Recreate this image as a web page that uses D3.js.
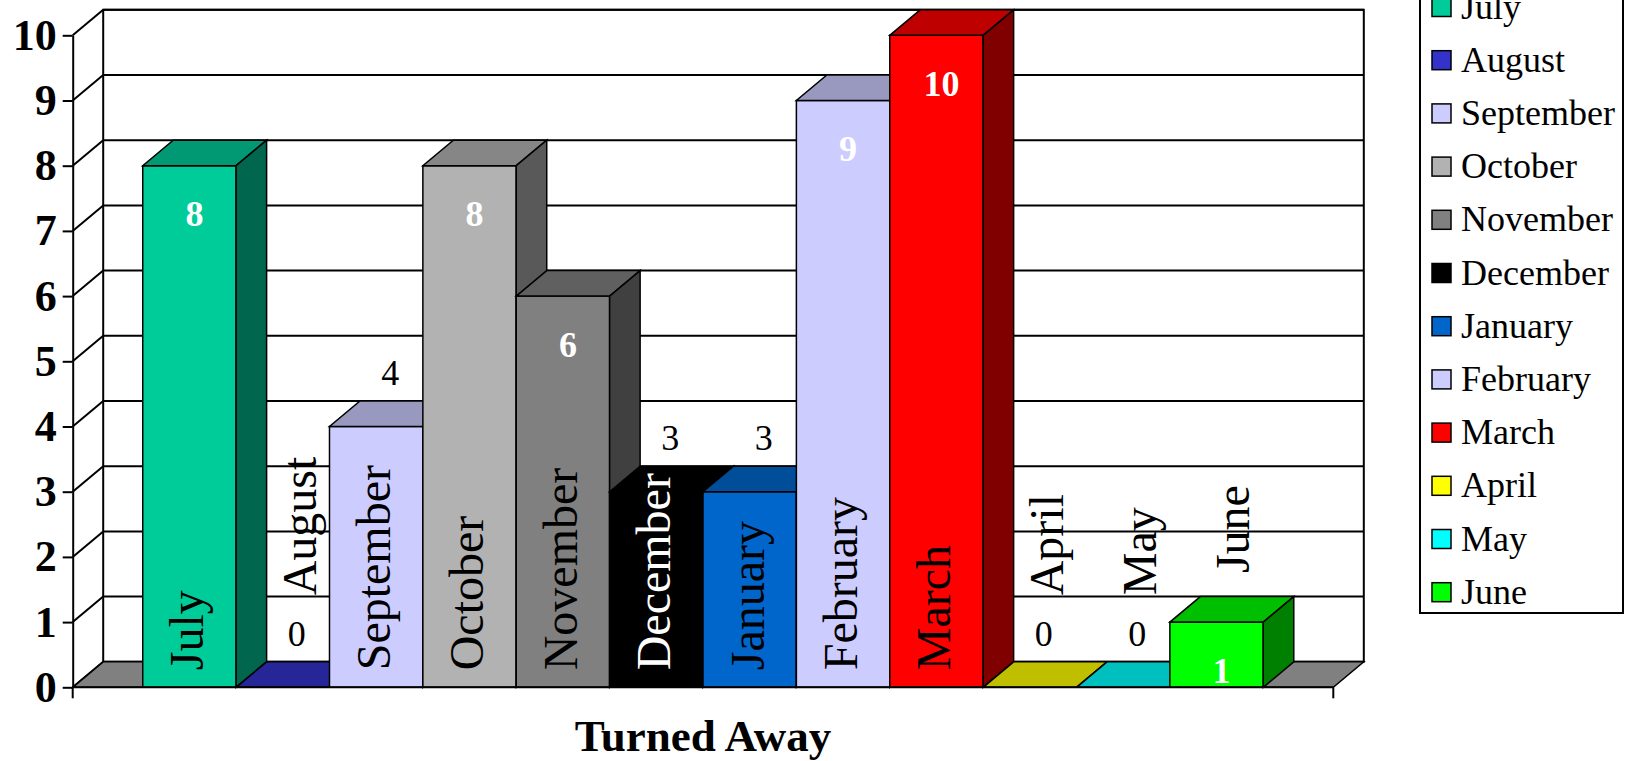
<!DOCTYPE html>
<html lang="en">
<head>
    <meta charset="UTF-8">
    <title>Turned Away</title>
    <style>
        body { margin: 0; background: #fff; }
        svg { display: block; font-family: "Liberation Serif", "Times New Roman", serif; }
    </style>
</head>
<body>
    <svg id="chart" width="1630" height="761"></svg>
    <script src="https://d3js.org/d3.v7.min.js"></script>
    <script>
        // data
        var months = ["July", "August", "September", "October", "November", "December",
                      "January", "February", "March", "April", "May", "June"];
        var turnedAway = [8, 0, 4, 8, 6, 3, 3, 9, 10, 0, 0, 1];
        var yTicks = [0, 1, 2, 3, 4, 5, 6, 7, 8, 9, 10];
        var barColors = ["#00CC99", "#3333CC", "#CCCCFF", "#B2B2B2", "#808080", "#000000",
                         "#0066CC", "#CCCCFF", "#FF0000", "#FFFF00", "#00FFFF", "#00FF00"];
        // months whose value label sits inside the bar (white, bold)
        var insideValueLabels = ["July", "October", "November", "February", "March", "June"];
        var axisTitle = "Turned Away";

        var data = months.map(function(m, i) {
            return { month: m, value: turnedAway[i], color: barColors[i] };
        });

        // 3d offset of the back plane
        var dx = 30.5, dy = -25.5;

        var svg = d3.select("#chart");

        var x = d3.scaleBand()
                  .domain(months)
                  .range([72.7, 1333.3])
                  .paddingInner(0)
                  .paddingOuter(0.75);

        var y = d3.scaleLinear()
                  .domain([0, 10])
                  .range([687.3, 35.3]);

        var x0 = x.range()[0], x1 = x.range()[1];
        var bw = x.bandwidth();

        function shade(c, f) {
            var r = d3.rgb(c);
            return d3.rgb(r.r * f, r.g * f, r.b * f).formatHex();
        }
        function poly(pts) {
            return "M" + pts.map(function(p) { return p[0] + "," + p[1]; }).join("L") + "Z";
        }

        // back wall
        svg.append("rect")
           .attr("x", x0 + dx).attr("y", y(10) + dy)
           .attr("width", x1 - x0).attr("height", y(0) - y(10))
           .attr("fill", "#fff").attr("stroke", "#000").attr("stroke-width", 2);

        // gridlines on back wall + side wall diagonals
        svg.selectAll(".grid")
           .data(yTicks)
           .enter().append("line")
           .attr("x1", x0 + dx).attr("x2", x1 + dx)
           .attr("y1", function(d) { return y(d) + dy; })
           .attr("y2", function(d) { return y(d) + dy; })
           .attr("stroke", "#000").attr("stroke-width", 2);

        svg.selectAll(".side")
           .data(yTicks)
           .enter().append("line")
           .attr("x1", x0).attr("x2", x0 + dx)
           .attr("y1", function(d) { return y(d); })
           .attr("y2", function(d) { return y(d) + dy; })
           .attr("stroke", "#000").attr("stroke-width", 2);

        // floor
        svg.append("path")
           .attr("d", poly([[x0, y(0)], [x1, y(0)], [x1 + dx, y(0) + dy], [x0 + dx, y(0) + dy]]))
           .attr("fill", "#808080").attr("stroke", "#000").attr("stroke-width", 1.5);

        // bars, drawn left to right so later bars cover the sides
        var bar = svg.selectAll(".bar")
                     .data(data)
                     .enter().append("g")
                     .attr("class", "bar");

        bar.append("path")
           .attr("d", function(d) {
               var a = x(d.month), b = a + bw, t = y(d.value), z = y(0);
               return poly([[a, z], [b, z], [b, t], [a, t]]);
           })
           .attr("fill", function(d) { return d.color; })
           .attr("stroke", "#000").attr("stroke-width", 1.5);

        bar.append("path")
           .attr("d", function(d) {
               var a = x(d.month), b = a + bw, t = y(d.value);
               return poly([[a, t], [b, t], [b + dx, t + dy], [a + dx, t + dy]]);
           })
           .attr("fill", function(d) { return shade(d.color, 0.75); })
           .attr("stroke", "#000").attr("stroke-width", 1.5);

        bar.filter(function(d) { return d.value > 0; })
           .append("path")
           .attr("d", function(d) {
               var b = x(d.month) + bw, t = y(d.value), z = y(0);
               return poly([[b, z], [b + dx, z + dy], [b + dx, t + dy], [b, t]]);
           })
           .attr("fill", function(d) { return shade(d.color, 0.5); })
           .attr("stroke", "#000").attr("stroke-width", 1.5);

        // value labels
        function isInside(d) { return insideValueLabels.indexOf(d.month) >= 0; }
        function valueY(d) { return isInside(d) ? y(d.value) + 48 : y(d.value) - 54; }

        bar.append("text")
           .attr("x", function(d) { return x(d.month) + bw / 2 + (isInside(d) ? 5 : 14); })
           .attr("y", valueY)
           .attr("dy", "0.35em")
           .attr("text-anchor", "middle")
           .style("font-size", "36px")
           .style("font-weight", function(d) { return isInside(d) ? "bold" : "normal"; })
           .attr("fill", function(d) { return isInside(d) ? "#fff" : "#000"; })
           .text(function(d) { return d.value; });

        // category labels, rotated
        bar.append("text")
           .attr("transform", function(d) {
               var cx = x(d.month) + bw / 2, sy;
               if (d.value >= 3) { cx -= 3; sy = y(0) - 17; }
               else if (!isInside(d)) { cx += 16; sy = valueY(d) - 38; }
               else { cx += 16; sy = y(d.value) - 49; }
               return "translate(" + cx + "," + sy + ") rotate(-90)";
           })
           .attr("dy", "0.35em")
           .attr("text-anchor", "start")
           .style("font-size", "48px")
           .attr("fill", function(d) {
               return (d.value >= 3 && d3.hsl(d.color).l < 0.15) ? "#fff" : "#000";
           })
           .text(function(d) { return d.month; });

        // value axis
        var yAxis = svg.append("g")
                       .attr("transform", "translate(" + x0 + ",0)")
                       .call(d3.axisLeft(y).tickValues(yTicks).tickSize(10).tickSizeOuter(0).tickPadding(6));
        yAxis.select(".domain").attr("stroke", "#000").attr("stroke-width", 2);
        yAxis.selectAll(".tick line").attr("stroke", "#000").attr("stroke-width", 2);
        yAxis.selectAll(".tick text")
             .attr("fill", "#000")
             .style("font-family", "'Liberation Serif', 'Times New Roman', serif")
             .style("font-size", "44px")
             .style("font-weight", "bold");

        // category axis line with end ticks
        svg.append("line")
           .attr("x1", x0).attr("x2", x1)
           .attr("y1", y(0)).attr("y2", y(0))
           .attr("stroke", "#000").attr("stroke-width", 2);
        svg.selectAll(".endtick")
           .data(x.range())
           .enter().append("line")
           .attr("x1", function(d) { return d; }).attr("x2", function(d) { return d; })
           .attr("y1", y(0)).attr("y2", y(0) + 11)
           .attr("stroke", "#000").attr("stroke-width", 2);

        // axis title
        svg.append("text")
           .attr("x", (x0 + x1) / 2)
           .attr("y", 751)
           .attr("text-anchor", "middle")
           .style("font-size", "45px")
           .style("font-weight", "bold")
           .text(axisTitle);

        // legend (its top runs off the canvas, as in the original)
        var legend = svg.append("g").attr("transform", "translate(1420,0)");
        legend.append("rect")
              .attr("x", 0).attr("y", -20)
              .attr("width", 203).attr("height", 633)
              .attr("fill", "#fff").attr("stroke", "#000").attr("stroke-width", 2);

        var item = legend.selectAll(".item")
                         .data(data)
                         .enter().append("g")
                         .attr("transform", function(d, i) { return "translate(0," + (7.5 + i * 53.2) + ")"; });
        item.append("rect")
            .attr("x", 12).attr("y", -10)
            .attr("width", 19).attr("height", 19)
            .attr("fill", function(d) { return d.color; })
            .attr("stroke", "#000").attr("stroke-width", 1.5);
        item.append("text")
            .attr("x", 41).attr("y", 11)
            .style("font-size", "36px")
            .text(function(d) { return d.month; });
    </script>
</body>
</html>
